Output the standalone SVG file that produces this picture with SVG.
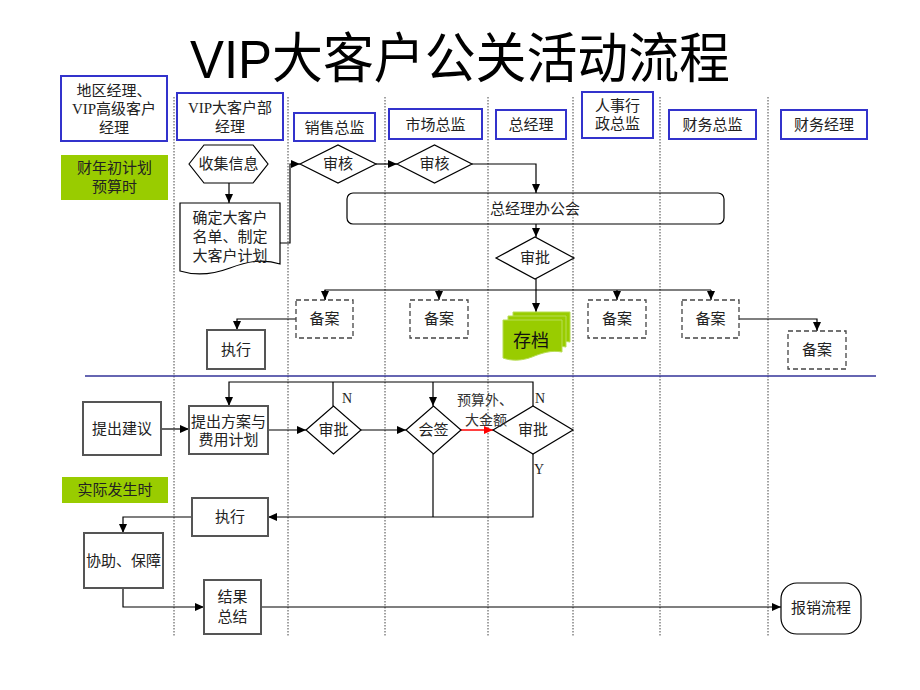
<svg xmlns="http://www.w3.org/2000/svg" width="920" height="690" viewBox="0 0 920 690">
<defs>
<marker id="ah" markerWidth="9" markerHeight="8" refX="9" refY="4" orient="auto" markerUnits="userSpaceOnUse"><path d="M0,0 L9,4 L0,8 z" fill="#000"/></marker>
<marker id="ahr" markerWidth="9" markerHeight="8" refX="9" refY="4" orient="auto" markerUnits="userSpaceOnUse"><path d="M0,0 L9,4 L0,8 z" fill="#f00"/></marker>
<style>
text{font-family:"Liberation Serif","Noto Sans CJK SC",serif;font-size:15px;fill:#222;text-anchor:middle}
.title{font-family:"Liberation Sans","Noto Sans CJK SC",sans-serif;font-size:54px;fill:#000}
.hdr{fill:#fff;stroke:#3333cc;stroke-width:2}
.grn{fill:#99cc00;stroke:none}
.lane{stroke:#444;stroke-width:1;stroke-dasharray:1.5,1.5;fill:none}
.box{fill:#fff;stroke:#555;stroke-width:2}
.shp{fill:#fff;stroke:#000;stroke-width:1.2}
.dash{fill:#fff;stroke:#444;stroke-width:1.3;stroke-dasharray:5,3}
.c{fill:none;stroke:#000;stroke-width:1.2}
.cm{fill:none;stroke:#000;stroke-width:1.2;marker-end:url(#ah)}
.doc{fill:#99cc00;stroke:#b8dd55;stroke-width:1}
.lbl{text-anchor:start;fill:#333;font-size:14px}
</style>
</defs>
<rect width="920" height="690" fill="#fff"/>
<text class="title" x="460" y="78" textLength="540" lengthAdjust="spacingAndGlyphs">VIP大客户公关活动流程</text>

<g id="lanes">
<line class="lane" x1="174" y1="97" x2="174" y2="637"/>
<line class="lane" x1="288" y1="97" x2="288" y2="637"/>
<line class="lane" x1="385" y1="97" x2="385" y2="637"/>
<line class="lane" x1="488" y1="97" x2="488" y2="637"/>
<line class="lane" x1="573" y1="97" x2="573" y2="637"/>
<line class="lane" x1="660" y1="97" x2="660" y2="637"/>
<line class="lane" x1="768" y1="97" x2="768" y2="637"/>
<line x1="85" y1="376" x2="876" y2="376" stroke="#333399" stroke-width="1.5"/>
</g>

<g id="h1"><rect class="hdr" x="61" y="76" width="106" height="65"/><text x="114" y="96">地区经理、</text><text x="114" y="114">VIP高级客户</text><text x="114" y="133">经理</text></g>
<g id="h2"><rect class="hdr" x="177" y="93" width="106" height="47"/><text x="230" y="113">VIP大客户部</text><text x="230" y="132">经理</text></g>
<g id="h3"><rect class="hdr" x="294" y="113" width="81" height="28"/><text x="334.5" y="133">销售总监</text></g>
<g id="h4"><rect class="hdr" x="389" y="109" width="93" height="30"/><text x="435.5" y="130">市场总监</text></g>
<g id="h5"><rect class="hdr" x="496" y="110" width="70" height="29"/><text x="531" y="130">总经理</text></g>
<g id="h6"><rect class="hdr" x="582" y="92" width="71" height="46"/><text x="617.5" y="111">人事行</text><text x="617.5" y="129">政总监</text></g>
<g id="h7"><rect class="hdr" x="669" y="110" width="87" height="29"/><text x="712.5" y="130">财务总监</text></g>
<g id="h8"><rect class="hdr" x="781" y="110" width="86" height="29"/><text x="824" y="130">财务经理</text></g>

<g id="g1"><rect class="grn" x="61" y="155" width="107" height="45"/><text x="114.5" y="173">财年初计划</text><text x="114.5" y="192">预算时</text></g>
<g id="g2"><rect class="grn" x="62" y="477" width="106" height="26"/><text x="115" y="495">实际发生时</text></g>

<g id="connectors">
<line class="cm" x1="229" y1="183" x2="229" y2="203"/>
<polyline class="cm" points="280,243 290,243 290,164 300,164"/>
<line class="cm" x1="376" y1="164" x2="397" y2="164"/>
<polyline class="cm" points="472,164 536,164 536,193"/>
<line class="cm" x1="536" y1="224" x2="536" y2="237"/>
<line class="cm" x1="536" y1="279" x2="536" y2="312"/>
<polyline class="c" points="325,300 325,290 711,290"/>
<line class="cm" x1="325" y1="290" x2="325" y2="300"/>
<line class="cm" x1="439" y1="290" x2="439" y2="300"/>
<line class="cm" x1="617" y1="290" x2="617" y2="300"/>
<line class="cm" x1="711" y1="290" x2="711" y2="300"/>
<polyline class="cm" points="296,319 237,319 237,330"/>
<polyline class="cm" points="739,319 817,319 817,331"/>

<line class="cm" x1="161" y1="429" x2="189" y2="429"/>
<line class="cm" x1="268" y1="430" x2="306" y2="430"/>
<polyline class="c" points="333,406 333,382"/>
<polyline class="cm" points="533,406 533,382 229,382 229,406"/>
<line class="cm" x1="433" y1="382" x2="433" y2="406"/>
<line class="cm" x1="361" y1="430" x2="406" y2="430"/>
<line x1="461" y1="430" x2="493" y2="430" stroke="#f00" stroke-width="1.5" marker-end="url(#ahr)"/>
<polyline class="c" points="433,454 433,517"/>
<polyline class="cm" points="533,454 533,517 268,517"/>
<polyline class="cm" points="192,517 123,517 123,533"/>
<polyline class="cm" points="123,588 123,607 204,607"/>
<line class="cm" x1="261" y1="607" x2="781" y2="607"/>
</g>

<g id="n1"><polygon class="shp" points="189,164 204,145 253,145 268,164 253,183 204,183"/><text x="228.5" y="169">收集信息</text></g>
<g id="n2"><path class="shp" d="M180,203 H280 V264 C262,258 246,262 230,268 C214,274 196,276 180,271 Z"/><text x="230" y="223">确定大客户</text><text x="230" y="242">名单、制定</text><text x="230" y="261">大客户计划</text></g>
<g id="n3"><polygon class="shp" points="300,164 338,145 376,164 338,183"/><text x="338" y="169">审核</text></g>
<g id="n4"><polygon class="shp" points="397,164 434.5,145 472,164 434.5,183"/><text x="434.5" y="169">审核</text></g>
<g id="n5"><rect x="347" y="193" width="377" height="31" rx="6" fill="none" stroke="#000" stroke-width="1.2"/><text x="535" y="214">总经理办公会</text></g>
<g id="n6"><polygon class="shp" points="496,258 535,237 574,258 535,279"/><text x="535" y="263">审批</text></g>
<g id="n7"><rect class="dash" x="296" y="300" width="57" height="38"/><text x="324.5" y="324">备案</text></g>
<g id="n8"><rect class="dash" x="410" y="300" width="58" height="38"/><text x="439" y="324">备案</text></g>
<g id="n9"><rect class="dash" x="588" y="300" width="58" height="38"/><text x="617" y="324">备案</text></g>
<g id="n10"><rect class="dash" x="682" y="300" width="57" height="38"/><text x="710.5" y="324">备案</text></g>
<g id="n11"><rect class="dash" x="788" y="331" width="58" height="38"/><text x="817" y="355">备案</text></g>
<g id="n12"><rect class="box" x="207" y="330" width="58" height="39"/><text x="236" y="355">执行</text></g>
<g id="n13">
<path class="doc" d="M513,312 H570 V342 C560,340 552,343 542,347 C532,351 522,351 513,348 Z"/>
<path class="doc" d="M508,316 H566 V347 C556,345 547,348 537,352 C527,356 517,356 508,353 Z"/>
<path class="doc" d="M503,320 H562 V352 C551,350 542,353 532,357 C522,361 511,361 503,358 Z"/>
<text x="531" y="347" style="font-size:18px;fill:#111">存档</text></g>

<g id="m1"><rect class="box" x="83" y="402" width="78" height="53"/><text x="122" y="434">提出建议</text></g>
<g id="m2"><rect class="box" x="189" y="406" width="79" height="48"/><text x="228.5" y="427">提出方案与</text><text x="228.5" y="445">费用计划</text></g>
<g id="m3"><polygon class="shp" points="306,430 333.5,406 361,430 333.5,454"/><text x="333.5" y="435">审批</text><text x="347" y="403" style="font-size:14px">N</text></g>
<g id="m4"><polygon class="shp" points="406,430 433.5,406 461,430 433.5,454"/><text x="433.5" y="435">会签</text></g>
<g id="m5"><polygon class="shp" points="493,430 533,406 573,430 533,454"/><text x="533" y="435">审批</text><text x="540" y="403" style="font-size:14px">N</text><text x="539" y="474" style="font-size:14px">Y</text></g>
<g id="m6"><text class="lbl" x="457" y="405">预算外、</text><text class="lbl" x="465" y="425">大金额</text></g>
<g id="m7"><rect class="box" x="192" y="498" width="76" height="38"/><text x="230" y="522">执行</text></g>
<g id="m8"><rect class="box" x="84" y="533" width="79" height="55"/><text x="123.5" y="566">协助、保障</text></g>
<g id="m9"><rect class="box" x="204" y="580" width="57" height="54"/><text x="232.5" y="602">结果</text><text x="232.5" y="622">总结</text></g>
<g id="m10"><rect x="781" y="583" width="80" height="51" rx="16" fill="#fff" stroke="#000" stroke-width="1.2"/><text x="821" y="613">报销流程</text></g>
</svg>
